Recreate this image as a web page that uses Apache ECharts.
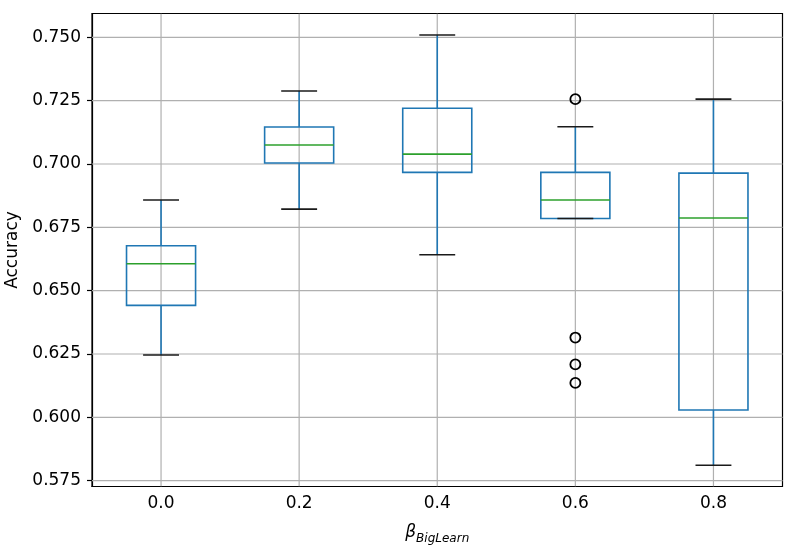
<!DOCTYPE html>
<html><head><meta charset="utf-8">
<script src="https://cdn.jsdelivr.net/npm/echarts@6/dist/echarts.min.js"></script>
<style>html,body{margin:0;padding:0;background:#fff}#c{width:797px;height:548px}</style>
</head><body><div id="c"></div>
<script>
const categories = ['0.0', '0.2', '0.4', '0.6', '0.8'];
const whiskerLow  = [0.6246, 0.6822, 0.6642, 0.6785, 0.5811];
const q1          = [0.6442, 0.7004, 0.6967, 0.6785, 0.6029];
const median      = [0.6606, 0.7075, 0.7039, 0.6858, 0.6787];
const q3          = [0.6677, 0.7146, 0.7220, 0.6967, 0.6964];
const whiskerHigh = [0.6858, 0.7288, 0.7509, 0.7147, 0.7256];
const outlierCat  = ['0.6', '0.6', '0.6', '0.6'];
const outlierVal  = [0.7256, 0.6315, 0.6209, 0.6136];
const yTicks      = [0.575, 0.600, 0.625, 0.650, 0.675, 0.700, 0.725, 0.750];

const boxData = categories.map((c, i) => [i, whiskerLow[i], q1[i], median[i], q3[i], whiskerHigh[i]]);
const FONT = 'DejaVu Sans';
const GRID_STYLE = {stroke: '#b0b0b0', lineWidth: 1.2};

function renderBox(params, api) {
  const x = api.value(0);
  const cw = api.size([1, 0])[0];
  const bw = cw * 0.5, cap = cw * 0.26;
  const pLow = api.coord([x, api.value(1)]);
  const pQ1 = api.coord([x, api.value(2)]);
  const pMed = api.coord([x, api.value(3)]);
  const pQ3 = api.coord([x, api.value(4)]);
  const pHigh = api.coord([x, api.value(5)]);
  const cx = pQ1[0];
  const blue = {stroke: '#1f77b4', lineWidth: 1.6, fill: null};
  const black = {stroke: '#1a1a1a', lineWidth: 1.6};
  return {
    type: 'group',
    children: [
      {type: 'line', shape: {x1: cx, y1: pQ3[1], x2: cx, y2: pHigh[1]}, style: blue},
      {type: 'line', shape: {x1: cx, y1: pQ1[1], x2: cx, y2: pLow[1]}, style: blue},
      {type: 'rect', shape: {x: cx - bw / 2, y: pQ3[1], width: bw, height: pQ1[1] - pQ3[1]}, style: blue},
      {type: 'line', shape: {x1: cx - cap / 2, y1: pHigh[1], x2: cx + cap / 2, y2: pHigh[1]}, style: black},
      {type: 'line', shape: {x1: cx - cap / 2, y1: pLow[1], x2: cx + cap / 2, y2: pLow[1]}, style: black},
      {type: 'line', shape: {x1: cx - bw / 2, y1: pMed[1], x2: cx + bw / 2, y2: pMed[1]}, style: {stroke: '#2ca02c', lineWidth: 1.6}}
    ]
  };
}
function renderHGrid(params, api) {
  const cs = params.coordSys;
  const y = api.coord([0, api.value(1)])[1];
  return {type: 'line', shape: {x1: cs.x, y1: y, x2: cs.x + cs.width, y2: y}, style: GRID_STYLE};
}
function renderVGrid(params, api) {
  const cs = params.coordSys;
  const x = api.coord([api.value(0), api.value(1)])[0];
  return {type: 'line', shape: {x1: x, y1: cs.y, x2: x, y2: cs.y + cs.height}, style: GRID_STYLE};
}

const chart = echarts.init(document.getElementById('c'), null, {renderer: 'canvas'});
chart.setOption({
  animation: false,
  backgroundColor: '#fff',
  grid: {left: 92, right: 14.5, top: 13.5, bottom: 61.5, show: true, borderColor: '#000', borderWidth: 1.2,
    backgroundColor: 'transparent', containLabel: false, outerBoundsMode: 'none'},
  xAxis: {
    type: 'category', data: categories, boundaryGap: true,
    axisLine: {lineStyle: {color: '#000', width: 1.2}},
    axisTick: {alignWithLabel: true, length: 5, lineStyle: {color: '#000', width: 1.2}},
    axisLabel: {color: '#000', fontFamily: FONT, fontSize: 17, margin: 9},
    splitLine: {show: false},
    name: '{b|β}{s|BigLearn}', nameLocation: 'middle', nameGap: 38,
    nameTextStyle: {
      rich: {
        b: {fontFamily: FONT, fontStyle: 'italic', fontSize: 17, color: '#000', lineHeight: 20, verticalAlign: 'top'},
        s: {fontFamily: FONT, fontStyle: 'italic', fontSize: 12, color: '#000', lineHeight: 12, verticalAlign: 'bottom'}
      }
    }
  },
  yAxis: {
    type: 'value', min: 0.5727, max: 0.7594,
    axisLine: {show: true, lineStyle: {color: '#000', width: 1.2}},
    axisTick: {show: true, length: 5, customValues: yTicks, lineStyle: {color: '#000', width: 1.2}},
    axisLabel: {color: '#000', fontFamily: FONT, fontSize: 17, margin: 11, customValues: yTicks,
      formatter: v => v.toFixed(3)},
    splitLine: {show: false},
    name: 'Accuracy', nameLocation: 'middle', nameGap: 70,
    nameTextStyle: {color: '#000', fontFamily: FONT, fontSize: 17}
  },
  series: [
    {type: 'custom', renderItem: renderHGrid, data: yTicks.map(v => [0, v]), z: 1, silent: true, clip: true},
    {type: 'custom', renderItem: renderVGrid, data: categories.map((c, i) => [i, yTicks[0]]), z: 1, silent: true, clip: true},
    {
      type: 'custom', renderItem: renderBox, data: boxData, z: 3, silent: true,
      encode: {x: 0, y: [1, 2, 3, 4, 5]}
    },
    {
      type: 'scatter', z: 4, silent: true,
      data: outlierCat.map((c, i) => [c, outlierVal[i]]),
      symbol: 'circle', symbolSize: 10,
      itemStyle: {color: 'rgba(0,0,0,0)', borderColor: '#000', borderWidth: 1.8, opacity: 1}
    }
  ]
});
</script>
</body></html>
